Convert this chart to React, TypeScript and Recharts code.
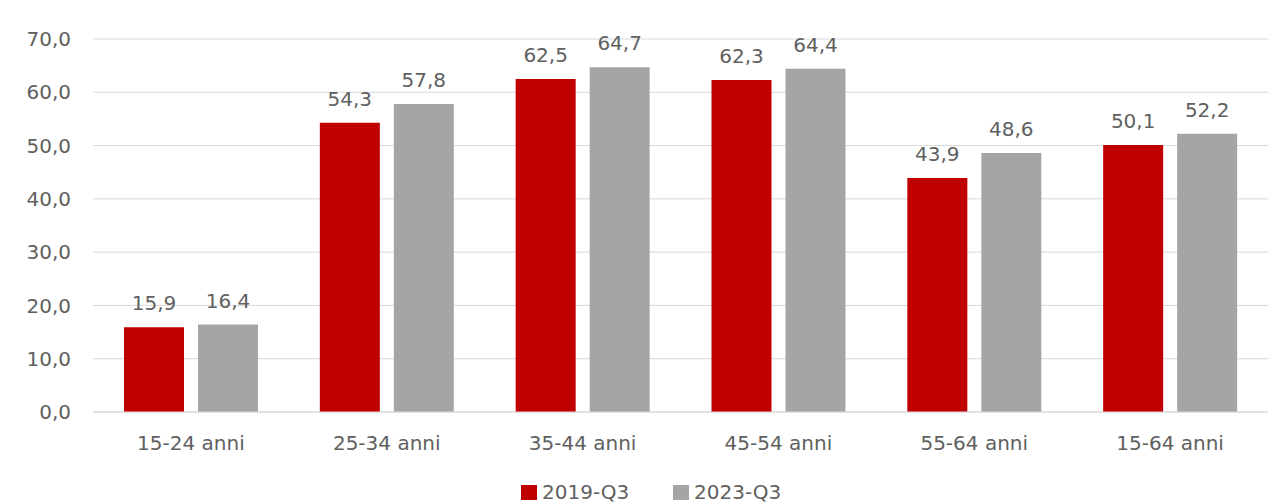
import React from "react";
import { BarChart, Bar, XAxis, YAxis, CartesianGrid, Legend, LabelList } from "recharts";

const categories = ["15-24 anni", "25-34 anni", "35-44 anni", "45-54 anni", "55-64 anni", "15-64 anni"];
const series2019 = [15.9, 54.3, 62.5, 62.3, 43.9, 50.1];
const series2023 = [16.4, 57.8, 64.7, 64.4, 48.6, 52.2];
const yTicks = [0, 10, 20, 30, 40, 50, 60, 70];
const seriesNames = ["2019-Q3", "2023-Q3"];
const seriesColors = ["#C00000", "#A5A5A5"];

const data = categories.map((c, i) => ({ name: c, a: series2019[i], b: series2023[i] }));

const fmt = (v: number) => v.toFixed(1).replace(".", ",");
const FONT = "'DejaVu Sans', sans-serif";
const TXT = "#606060";

const LegendContent = () => {
  const itemW = 16 + 5 + 87;
  const gap = 44;
  const total = itemW * 2 + gap;
  const cx = 651;
  const start = cx - total / 2;
  return (
    <svg width={1279} height={42} style={{ display: "block" }}>
      {seriesNames.map((n, i) => {
        const x = start + i * (itemW + gap);
        return (
          <g key={n}>
            <rect x={x} y={23} width={16} height={15} fill={seriesColors[i]} />
            <text x={x + 21} y={37} fill={TXT} fontSize={20} fontFamily={FONT}>
              {n}
            </text>
          </g>
        );
      })}
    </svg>
  );
};

export default function App() {
  return (
    <div style={{ position: "absolute", left: 0, top: 0, background: "#fff" }}>
      <BarChart
        width={1279}
        height={504}
        data={data}
        margin={{ top: 39, right: 11, bottom: 0, left: 0 }}
        barSize={60}
        barGap={14}
      >
        <CartesianGrid vertical={false} stroke="#D9D9D9" strokeWidth={1} />
        <XAxis
          dataKey="name"
          tickLine={false}
          axisLine={{ stroke: "#D9D9D9" }}
          tick={{ fill: TXT, fontSize: 20, fontFamily: FONT }}
          tickMargin={18}
          height={50}
        />
        <YAxis
          domain={[0, 70]}
          ticks={yTicks}
          tickFormatter={fmt}
          axisLine={false}
          tickLine={false}
          tickSize={0}
          tickMargin={22}
          width={93}
          tick={{ fill: TXT, fontSize: 20, fontFamily: FONT }}
        />
        <Legend
          verticalAlign="bottom"
          height={42}
          wrapperStyle={{ left: 0, width: 1279 }}
          content={<LegendContent />}
        />
        <Bar dataKey="a" name={seriesNames[0]} fill={seriesColors[0]} isAnimationActive={false}>
          <LabelList dataKey="a" position="top" offset={17} formatter={fmt} style={{ fill: TXT, fontSize: 20, fontFamily: FONT }} />
        </Bar>
        <Bar dataKey="b" name={seriesNames[1]} fill={seriesColors[1]} isAnimationActive={false}>
          <LabelList dataKey="b" position="top" offset={17} formatter={fmt} style={{ fill: TXT, fontSize: 20, fontFamily: FONT }} />
        </Bar>
      </BarChart>
    </div>
  );
}
